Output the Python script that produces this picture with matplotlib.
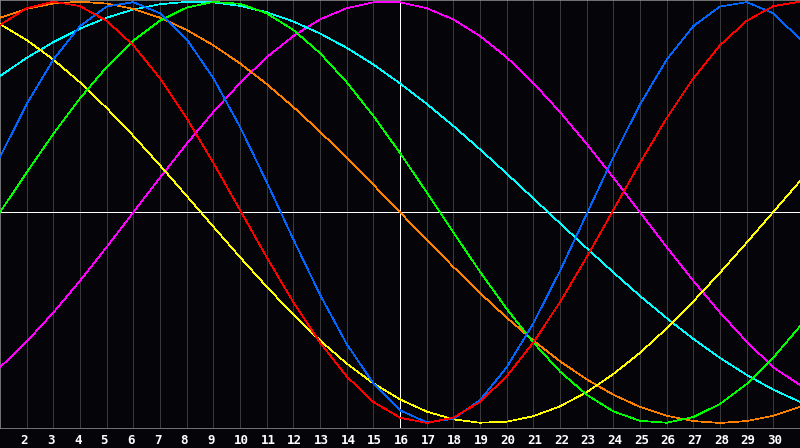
import matplotlib
matplotlib.use("Agg")
import matplotlib.pyplot as plt
from matplotlib.transforms import ScaledTranslation

# days of the month shown on the x axis
days = list(range(1, 32))
today = 16

# cycle values (-1..1), one per day
physical = [0.262, 0.514, 0.725, 0.884, 0.977, 0.998, 0.945, 0.822, 0.637, 0.406,
            0.144, -0.128, -0.391, -0.625, -0.812, -0.940, -0.997, -0.981, -0.892, -0.736,
            -0.527, -0.278, -0.008, 0.262, 0.512, 0.725, 0.884, 0.977, 0.998, 0.945, 0.822]
emotional = [0.889, 0.969, 1.000, 0.979, 0.909, 0.793, 0.636, 0.447, 0.235, 0.011,
             -0.213, -0.427, -0.618, -0.779, -0.900, -0.975, -1.000, -0.975, -0.900, -0.779,
             -0.618, -0.427, -0.213, 0.011, 0.235, 0.447, 0.636, 0.793, 0.909, 0.979, 1.000]
intellectual = [0.000, 0.189, 0.372, 0.541, 0.690, 0.815, 0.910, 0.972, 0.999, 0.990,
                0.945, 0.866, 0.756, 0.618, 0.458, 0.282, 0.095, -0.095, -0.282, -0.458,
                -0.618, -0.756, -0.866, -0.945, -0.990, -0.999, -0.972, -0.910, -0.815, -0.690, -0.541]
intuitive = [-0.736, -0.614, -0.476, -0.325, -0.165, 0.000, 0.165, 0.325, 0.476, 0.614,
             0.736, 0.837, 0.916, 0.969, 0.997, 0.997, 0.969, 0.916, 0.837, 0.736,
             0.614, 0.476, 0.325, 0.165, 0.000, -0.165, -0.325, -0.476, -0.614, -0.736, -0.820]
aesthetic = [0.893, 0.818, 0.725, 0.617, 0.495, 0.363, 0.223, 0.078, -0.068, -0.213,
             -0.353, -0.486, -0.608, -0.718, -0.812, -0.888, -0.946, -0.983, -0.999, -0.994,
             -0.968, -0.921, -0.854, -0.768, -0.667, -0.551, -0.423, -0.287, -0.144, 0.002, 0.148]
awareness = [0.924, 0.966, 0.991, 1.000, 0.991, 0.966, 0.924, 0.866, 0.793, 0.707,
             0.609, 0.500, 0.383, 0.259, 0.131, 0.000, -0.131, -0.259, -0.383, -0.500,
             -0.609, -0.707, -0.793, -0.866, -0.924, -0.966, -0.991, -1.000, -0.991, -0.966, -0.924]
spiritual = [0.647, 0.733, 0.808, 0.872, 0.924, 0.963, 0.988, 0.999, 0.997, 0.980,
             0.950, 0.906, 0.849, 0.781, 0.702, 0.612, 0.515, 0.410, 0.299, 0.184,
             0.066, -0.052, -0.170, -0.285, -0.397, -0.502, -0.601, -0.691, -0.772, -0.842, -0.900]

series = [
    (intuitive, "#ff00ff"),
    (spiritual, "#00ffff"),
    (awareness, "#ff8000"),
    (aesthetic, "#ffff00"),
    (intellectual, "#00ff00"),
    (physical, "#0066ff"),
    (emotional, "#ff0000"),
]

bg = "#050408"
fig = plt.figure(figsize=(8, 4.48), dpi=100, facecolor=bg)
ax = fig.add_axes([0, 20 / 448, 1, 428 / 448], facecolor=bg)

lw = 0.5  # about one pixel, no antialiasing
for d in days[1:-1]:
    ax.axvline(d, color="#3a3a3a", lw=lw, antialiased=False, zorder=1)
ax.axhline(0, color="white", lw=lw, antialiased=False, zorder=2)
ax.axvline(today, color="white", lw=lw, antialiased=False, zorder=2)

for vals, col in series:
    ax.plot(days, vals, color=col, lw=lw, antialiased=False, zorder=3)

ax.set_xlim(days[0], days[-1])
ax.set_ylim(-1.024, 1.008)
ax.set_yticks([])
ax.set_xticks(days[1:-1])
ax.set_xticklabels([str(d) for d in days[1:-1]], color="white",
                   fontfamily="DejaVu Sans Mono", fontweight="bold", fontsize=9)
ax.tick_params(axis="x", length=0, pad=4)
shift = ScaledTranslation(-6 / 100, 0, fig.dpi_scale_trans)
for lbl in ax.get_xticklabels():
    lbl.set_horizontalalignment("left")
    lbl.set_transform(lbl.get_transform() + shift)

for s in ax.spines.values():
    s.set_color("#a0a0a0")
    s.set_linewidth(lw)

fig.savefig("out.png", dpi=100, facecolor=bg)
